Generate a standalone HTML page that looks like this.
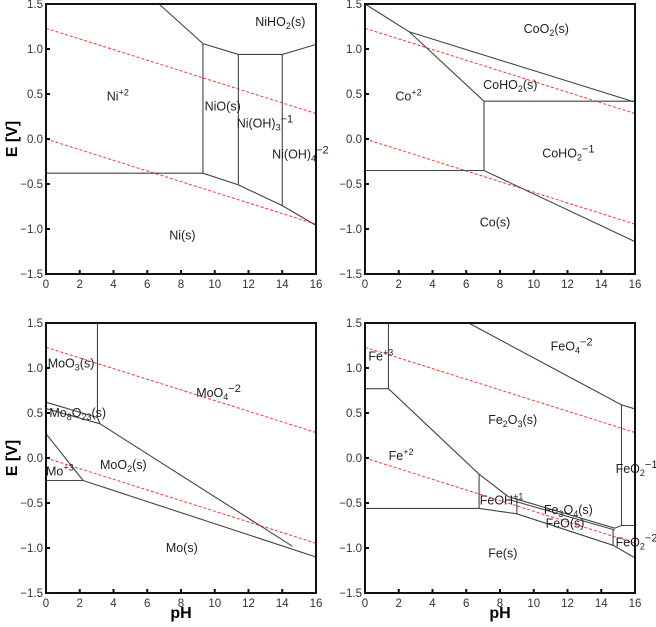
<!DOCTYPE html>
<html><head><meta charset="utf-8"><style>
body{margin:0;background:#fff}
svg{display:block;font-family:"Liberation Sans",sans-serif}
.tk{font-size:11.5px;fill:#333}
.lb{font-size:12.5px;fill:#222}
</style></head><body>
<svg id="c" width="656" height="627" viewBox="0 0 656 627"></svg>
<script>
// water stability lines (E vs pH)
const waterUpper=[[0,1.23],[16,0.283]];
const waterLower=[[0,0],[16,-0.947]];
const xTicks=[0,2,4,6,8,10,12,14,16];
const yTicks=[1.5,1.0,0.5,0.0,-0.5,-1.0,-1.5];
const yTickLabels=["1.5","1.0","0.5","0.0","\u22120.5","\u22121.0","\u22121.5"];
// Ni boundaries
const niLines=[[[6.7,1.5],[9.3,1.06],[11.4,0.94],[14,0.94],[16,1.05]],[[9.3,1.06],[9.3,-0.38]],[[11.4,0.94],[11.4,-0.51]],[[14,0.94],[14,-0.74]],[[0,-0.38],[9.3,-0.38],[11.4,-0.51],[14,-0.74],[16,-0.96]]];
const niLabels=[["NiHO<tspan font-size='9' dy='3'>2</tspan><tspan dy='-3'>(s)</tspan>",12.4,1.3],["Ni<tspan font-size='9' dy='-5'>+2</tspan>",3.6,0.47],["NiO(s)",9.4,0.36],["Ni(OH)<tspan font-size='9' dy='3'>3</tspan><tspan font-size='11' dy='-8'>\u22121</tspan>",11.3,0.17],["Ni(OH)<tspan font-size='9' dy='3'>4</tspan><tspan font-size='11' dy='-8'>\u22122</tspan>",13.4,-0.17],["Ni(s)",7.3,-1.07]];
// Co boundaries
const coLines=[[[0,1.5],[2.63,1.19],[7.05,0.42],[16,0.42]],[[2.63,1.19],[16,0.41]],[[7.05,0.42],[7.05,-0.35]],[[0,-0.35],[7.05,-0.35],[16,-1.14]]];
const coLabels=[["CoO<tspan font-size='9' dy='3'>2</tspan><tspan dy='-3'>(s)</tspan>",9.4,1.22],["CoHO<tspan font-size='9' dy='3'>2</tspan><tspan dy='-3'>(s)</tspan>",7.0,0.6],["Co<tspan font-size='9' dy='-5'>+2</tspan>",1.8,0.47],["CoHO<tspan font-size='9' dy='3'>2</tspan><tspan font-size='11' dy='-8'>\u22121</tspan>",10.5,-0.16],["Co(s)",6.8,-0.93]];
// Mo boundaries
const moLines=[[[3.05,1.5],[3.05,0.45],[3.2,0.38]],[[0,0.62],[3.05,0.45]],[[0,0.55],[3.2,0.38],[14.6,-0.98]],[[0,0.27],[2.2,-0.25]],[[0,-0.25],[2.2,-0.25],[16,-1.1]]];
const moLabels=[["MoO<tspan font-size='9' dy='3'>3</tspan><tspan dy='-3'>(s)</tspan>",0.1,1.05],["MoO<tspan font-size='9' dy='3'>4</tspan><tspan font-size='11' dy='-8'>\u22122</tspan>",8.9,0.72],["Mo<tspan font-size='9' dy='3'>8</tspan><tspan dy='-3'>O</tspan><tspan font-size='9' dy='3'>23</tspan><tspan dy='-3'>(s)</tspan>",0.2,0.5],["MoO<tspan font-size='9' dy='3'>2</tspan><tspan dy='-3'>(s)</tspan>",3.2,-0.08],["Mo<tspan font-size='9' dy='-5'>+3</tspan>",0.0,-0.15],["Mo(s)",7.1,-1.0]];
// Fe boundaries
const feLines=[[[1.39,1.5],[1.39,0.77]],[[0,0.77],[1.39,0.77],[6.76,-0.18],[8.5,-0.43],[14.8,-0.78],[15.2,-0.75],[16,-0.75]],[[8.5,-0.46],[14.8,-0.8]],[[6.14,1.5],[15.2,0.59],[16,0.545]],[[15.2,0.59],[15.2,-0.75]],[[6.76,-0.18],[6.76,-0.56]],[[0,-0.56],[6.76,-0.56],[9.0,-0.62],[14.7,-0.97],[16,-1.11]],[[9.0,-0.44],[9.0,-0.62]],[[14.7,-0.79],[14.7,-0.97]]];
const feLabels=[["FeO<tspan font-size='9' dy='3'>4</tspan><tspan font-size='11' dy='-8'>\u22122</tspan>",11.0,1.24],["Fe<tspan font-size='9' dy='-5'>+3</tspan>",0.2,1.13],["Fe<tspan font-size='9' dy='3'>2</tspan><tspan dy='-3'>O</tspan><tspan font-size='9' dy='3'>3</tspan><tspan dy='-3'>(s)</tspan>",7.3,0.42],["Fe<tspan font-size='9' dy='-5'>+2</tspan>",1.4,0.02],["FeO<tspan font-size='9' dy='3'>2</tspan><tspan font-size='11' dy='-8'>\u22121</tspan>",14.85,-0.12],["FeOH<tspan font-size='9' dy='-5'>+1</tspan>",6.8,-0.47],["Fe<tspan font-size='9' dy='3'>3</tspan><tspan dy='-3'>O</tspan><tspan font-size='9' dy='3'>4</tspan><tspan dy='-3'>(s)</tspan>",10.6,-0.58],["FeO(s)",10.7,-0.73],["FeO<tspan font-size='9' dy='3'>2</tspan><tspan font-size='11' dy='-8'>\u22122</tspan>",14.85,-0.94],["Fe(s)",7.3,-1.06]];

const panels=[
 {name:"ni",x0:46,x1:316,y0:4,y1:274,lines:niLines,labels:niLabels,ylab:true,xlab:false},
 {name:"co",x0:365,x1:635,y0:4,y1:274,lines:coLines,labels:coLabels,ylab:false,xlab:false},
 {name:"mo",x0:46,x1:316,y0:323,y1:593,lines:moLines,labels:moLabels,ylab:true,xlab:true},
 {name:"fe",x0:365,x1:635,y0:323,y1:593,lines:feLines,labels:feLabels,ylab:false,xlab:true}];
const svg=document.getElementById('c');
const NS="http://www.w3.org/2000/svg";
function mk(t,a,p){const e=document.createElementNS(NS,t);for(const k in a)e.setAttribute(k,a[k]);p.appendChild(e);return e;}
panels.forEach(P=>{
 const sx=v=>P.x0+(v/16)*(P.x1-P.x0);
 const sy=v=>P.y0+((1.5-v)/3)*(P.y1-P.y0);
 const g=mk('g',{},svg);
 
 
 [waterUpper,waterLower].forEach((w,i)=>{
  const l=mk('polyline',{points:w.map(p=>sx(p[0])+','+sy(p[1])).join(' '),fill:'none',stroke:'#f33','stroke-width':1,'stroke-dasharray':'3,2'},g);
  
  
 });
 P.lines.forEach(ln=>{
  const l=mk('polyline',{points:ln.map(p=>sx(p[0])+','+sy(p[1])).join(' '),fill:'none',stroke:'#444','stroke-width':1.1},g);
  
  
 });
 P.labels.forEach(lb=>{
  const t=mk('text',{x:sx(lb[1]),y:sy(lb[2])+4,class:'lb'},g);
  t.innerHTML=lb[0];
  
  
 });
 const f=mk('rect',{x:P.x0,y:P.y0,width:P.x1-P.x0,height:P.y1-P.y0,fill:'none',stroke:'#111','stroke-width':2},g);
 
 
 xTicks.forEach(v=>{
  mk('line',{x1:sx(v),x2:sx(v),y1:P.y1,y2:P.y1-4,stroke:'#111','stroke-width':2},g);
  const t=mk('text',{x:sx(v),y:P.y1+14,class:'tk','text-anchor':'middle'},g);
  t.textContent=v;
  
  
 });
 yTicks.forEach((v,i)=>{
  mk('line',{x1:P.x0,x2:P.x0+4,y1:sy(v),y2:sy(v),stroke:'#111','stroke-width':2},g);
  const t=mk('text',{x:P.x0-3,y:sy(v)+4,class:'tk','text-anchor':'end'},g);
  t.textContent=yTickLabels[i];
  
  
 });
 if(P.ylab){
  const cy=(P.y0+P.y1)/2;
  const t=mk('text',{x:17,y:cy,'font-size':16,'font-weight':'bold','text-anchor':'middle',transform:'rotate(-90 17 '+cy+')'},g);
  t.textContent='E [V]';
  
  
 }
 if(P.xlab){
  const t=mk('text',{x:(P.x0+P.x1)/2,y:618,'font-size':16,'font-weight':'bold','text-anchor':'middle'},g);
  t.textContent='pH';
  
  
 }
});
</script>
</body></html>
